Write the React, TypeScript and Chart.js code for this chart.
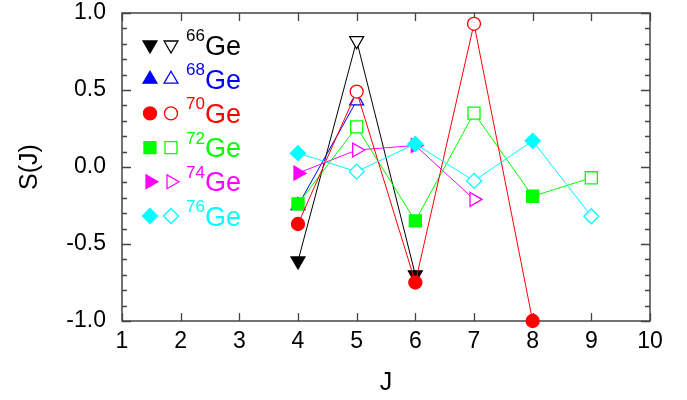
import React, { useEffect, useRef } from 'react';
import { Chart, registerables } from 'chart.js';
import { drawPoint } from 'chart.js/helpers';

Chart.register(...registerables);

// Axis ticks
const xTicks = [1, 2, 3, 4, 5, 6, 7, 8, 9, 10];
const yMajorStep = 0.5;
const yMinorStep = 0.1;

// Isotope labels (mass numbers) and colours
const massNumbers = ['66', '68', '70', '72', '74', '76'];
const seriesColors = ['#000000', '#0000ff', '#ff0000', '#00ff00', '#ff00ff', '#00ffff'];

// S(J) values per isotope
const jGe66 = [4, 5, 6];
const sGe66 = [-0.61, 0.82, -0.7];

const jGe68 = [4, 5];
const sGe68 = [-0.25, 0.43];

const jGe70 = [4, 5, 6, 7, 8];
const sGe70 = [-0.37, 0.49, -0.75, 0.93, -1.0];

const jGe72 = [4, 5, 6, 7, 8, 9];
const sGe72 = [-0.24, 0.26, -0.35, 0.35, -0.19, -0.07];

const jGe74 = [4, 5, 6, 7];
const sGe74 = [-0.04, 0.11, 0.14, -0.21];

const jGe76 = [4, 5, 6, 7, 8, 9];
const sGe76 = [0.09, -0.03, 0.15, -0.09, 0.17, -0.32];

const seriesJ = [jGe66, jGe68, jGe70, jGe72, jGe74, jGe76];
const seriesS = [sGe66, sGe68, sGe70, sGe72, sGe74, sGe76];

// Marker shapes: filled for even J, open for odd J
const markerShape = [
  { style: 'triangle', rotation: 180, radius: 8 },
  { style: 'triangle', rotation: 0, radius: 8 },
  { style: 'circle', rotation: 0, radius: 6.5 },
  { style: 'rect', rotation: 0, radius: 8.5 },
  { style: 'triangle', rotation: 90, radius: 8 },
  { style: 'rectRot', rotation: 0, radius: 7.5 },
];
// drawing order (lower = on top)
const drawOrder = [5, 4, 1, 2, 3, 0];

const FONT = '"Liberation Sans", Arial, Helvetica, sans-serif';

const framePlugin = {
  id: 'frameTicks',
  beforeDatasetsDraw(chart: any) {
    const { ctx, chartArea, scales } = chart;
    const { left, right, top, bottom } = chartArea;
    const xs = scales.x;
    const ys = scales.y;
    ctx.save();
    ctx.strokeStyle = '#444444';
    ctx.lineWidth = 1.5;
    ctx.strokeRect(left, top, right - left, bottom - top);
    ctx.lineWidth = 1.3;
    ctx.beginPath();
    for (const v of xTicks) {
      const px = Math.round(xs.getPixelForValue(v)) + 0.5;
      ctx.moveTo(px, bottom);
      ctx.lineTo(px, bottom - 8);
      ctx.moveTo(px, top);
      ctx.lineTo(px, top + 8);
    }
    const nMinor = Math.round((ys.max - ys.min) / yMinorStep);
    const perMajor = Math.round(yMajorStep / yMinorStep);
    for (let k = 0; k <= nMinor; k++) {
      const v = ys.min + k * yMinorStep;
      const py = Math.round(ys.getPixelForValue(v)) + 0.5;
      const len = k % perMajor === 0 ? 9 : 5;
      ctx.moveTo(left, py);
      ctx.lineTo(left + len, py);
      ctx.moveTo(right, py);
      ctx.lineTo(right - len, py);
    }
    ctx.stroke();
    ctx.restore();
  },
};

const legendPlugin = {
  id: 'isotopeLegend',
  afterDraw(chart: any) {
    const { ctx } = chart;
    const rowTop = 45;
    const rowStep = 34.2;
    ctx.save();
    massNumbers.forEach((mass, i) => {
      const y = rowTop + i * rowStep;
      const color = seriesColors[i];
      const m = markerShape[i];
      ctx.strokeStyle = color;
      ctx.lineWidth = 1.3;
      ctx.fillStyle = color;
      drawPoint(ctx, { pointStyle: m.style, rotation: m.rotation, radius: m.radius, borderWidth: 1.3 } as any, 150, y);
      ctx.fillStyle = '#ffffff';
      drawPoint(ctx, { pointStyle: m.style, rotation: m.rotation, radius: m.radius, borderWidth: 1.3 } as any, 171, y);
      ctx.fillStyle = color;
      ctx.textAlign = 'left';
      ctx.textBaseline = 'alphabetic';
      ctx.font = `17px ${FONT}`;
      ctx.fillText(mass, 186, y - 4);
      ctx.font = `27px ${FONT}`;
      ctx.fillText('Ge', 205, y + 9.5);
    });
    ctx.restore();
  },
};

export default function App() {
  const canvasRef = useRef<HTMLCanvasElement | null>(null);

  useEffect(() => {
    document.body.style.margin = '0';
    const canvas = canvasRef.current;
    if (!canvas) return;

    const datasets = massNumbers.map((mass, i) => {
      const color = seriesColors[i];
      const js = seriesJ[i];
      const ss = seriesS[i];
      const m = markerShape[i];
      return {
        label: `${mass}Ge`,
        data: js.map((j, k) => ({ x: j, y: ss[k] })),
        borderColor: color,
        backgroundColor: color,
        borderWidth: 1,
        pointBorderColor: color,
        pointBackgroundColor: js.map((j) => (j % 2 === 0 ? color : '#ffffff')),
        pointStyle: m.style as any,
        pointRotation: m.rotation,
        pointRadius: m.radius,
        pointBorderWidth: 1.3,
        tension: 0,
        clip: false as any,
        order: drawOrder[i],
      };
    });

    const chart = new Chart(canvas, {
      type: 'line',
      data: { datasets },
      options: {
        animation: false,
        responsive: false,
        devicePixelRatio: 1,
        layout: { padding: { top: 13, right: 37, left: 0, bottom: 0 } },
        plugins: { legend: { display: false }, tooltip: { enabled: false } },
        scales: {
          x: {
            type: 'linear',
            min: 1,
            max: 10,
            grid: { display: false, drawTicks: false },
            border: { display: false },
            afterFit: (scale: any) => {
              scale.height = 79;
              scale.paddingLeft = 0;
              scale.paddingRight = 0;
            },
            afterBuildTicks: (scale: any) => {
              scale.ticks = xTicks.map((v) => ({ value: v }));
            },
            ticks: {
              color: '#000',
              padding: 7,
              font: { family: FONT, size: 23 },
              callback: (v: any) => String(v),
            },
            title: {
              display: true,
              text: 'J',
              color: '#000',
              font: { family: FONT, size: 25 },
              padding: { top: 0, bottom: 2 },
            },
          },
          y: {
            type: 'linear',
            min: -1,
            max: 1,
            grid: { display: false, drawTicks: false },
            border: { display: false },
            afterFit: (scale: any) => {
              scale.width = 122;
              scale.paddingTop = 0;
              scale.paddingBottom = 0;
            },
            ticks: {
              stepSize: yMajorStep,
              color: '#000',
              padding: 16,
              font: { family: FONT, size: 23 },
              callback: (v: any) => Number(v).toFixed(1),
            },
            title: {
              display: true,
              text: 'S(J)',
              color: '#000',
              font: { family: FONT, size: 25 },
              padding: { top: 15, bottom: 0 },
            },
          },
        },
      },
      plugins: [framePlugin, legendPlugin],
    });

    return () => chart.destroy();
  }, []);

  return (
    <div style={{ width: 687, height: 400 }}>
      <canvas ref={canvasRef} width={687} height={400} />
    </div>
  );
}
